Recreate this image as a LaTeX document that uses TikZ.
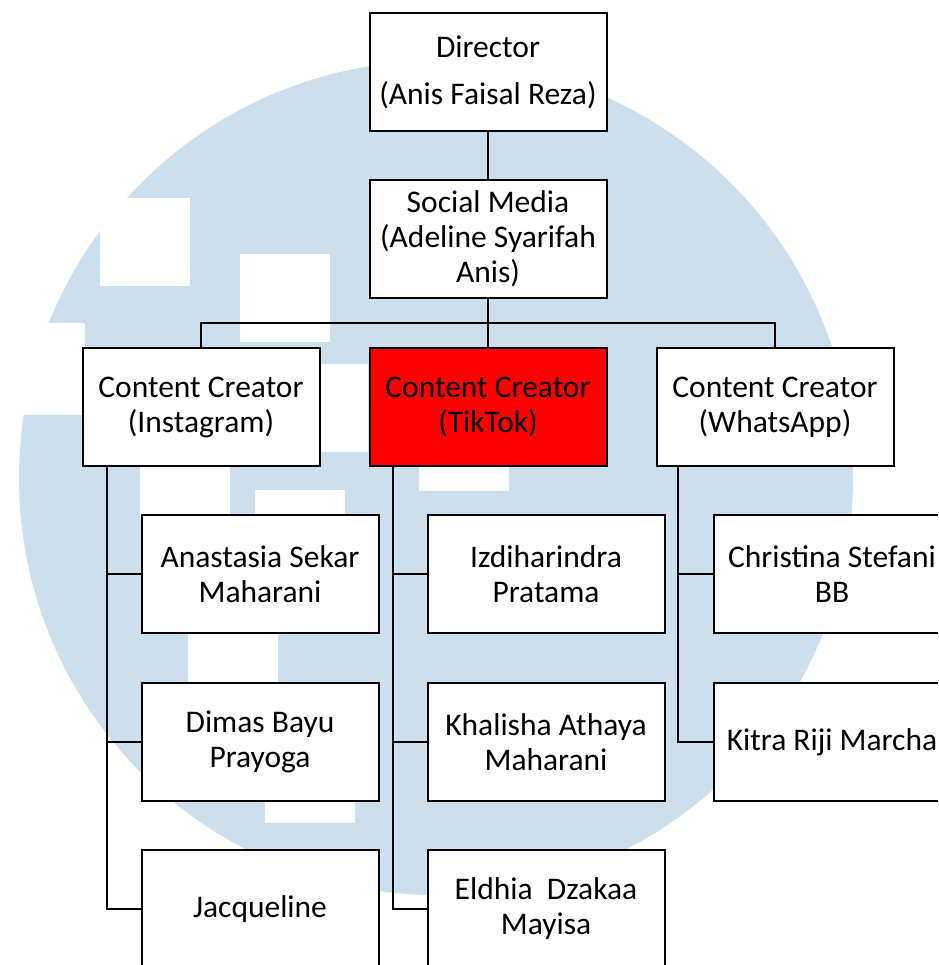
\documentclass[tikz,border=0pt]{standalone}
\usepackage{fontspec}
\setmainfont{Carlito}
\usepackage{tikz}
\definecolor{umnblue}{RGB}{205,222,237}
\definecolor{tiktokred}{RGB}{255,0,0}

\begin{document}
\begin{tikzpicture}[x=1pt,y=-1pt,
    box/.style={draw=black,line width=2pt,fill=white,
        minimum width=237pt,minimum height=118pt,inner sep=0pt,
        align=center,font=\fontsize{31.5}{35}\selectfont},
    link/.style={draw=black,line width=2pt}]
    \useasboundingbox (0,0) rectangle (938,965);
    \clip (0,0) rectangle (938,965);

    % watermark in the back
    \fill[umnblue] (436,478) circle (417pt);
    \fill[white] (0,323) rectangle (85,415);
    \foreach \x/\y in {100/198, 240/254, 278/364, 140/430, 255/490,
                       188/594, 265/735, 419/403}
        \fill[white] (\x,\y) rectangle ++(90,88);

    % head and social media
    \node[box] (dir) at (488,72) {Director\\[12pt](Anis Faisal Reza)};
    \node[box] (soc) at (488,239) {Social Media\\(Adeline Syarifah\\Anis)};

    % content creators
    \node[box] (ig) at (201,407) {Content Creator\\(Instagram)};
    \node[box,fill=tiktokred] (tt) at (488,407) {Content Creator\\(TikTok)};
    \node[box] (wa) at (775,407) {Content Creator\\(WhatsApp)};

    % members
    \node[box] (ana) at (260,574) {Anastasia Sekar\\Maharani};
    \node[box] (dim) at (260,742) {Dimas Bayu\\Prayoga};
    \node[box] (jac) at (260,909) {Jacqueline};
    \node[box] (izd) at (546,574) {Izdiharindra\\Pratama};
    \node[box] (kha) at (546,742) {Khalisha Athaya\\Maharani};
    \node[box] (eld) at (546,909) {Eldhia\ \ Dzakaa\\Mayisa};
    \node[box] (chr) at (832,574) {Christina Stefani\\BB};
    \node[box] (kit) at (832,742) {Kitra Riji Marcha};

    % connectors
    \coordinate (bus) at (488,323);
    \coordinate (igsp) at (107,466);
    \coordinate (ttsp) at (393,466);
    \coordinate (wasp) at (678,466);

    \draw[link] (dir) -- (soc);
    \draw[link] (soc) -- (tt);
    \draw[link] (ig.north) |- (bus) -| (wa.north);

    \draw[link] (igsp) |- (jac.west);
    \draw[link] (ana.west) -- (ana.west -| igsp);
    \draw[link] (dim.west) -- (dim.west -| igsp);

    \draw[link] (ttsp) |- (eld.west);
    \draw[link] (izd.west) -- (izd.west -| ttsp);
    \draw[link] (kha.west) -- (kha.west -| ttsp);

    \draw[link] (wasp) |- (kit.west);
    \draw[link] (chr.west) -- (chr.west -| wasp);
\end{tikzpicture}
\end{document}
